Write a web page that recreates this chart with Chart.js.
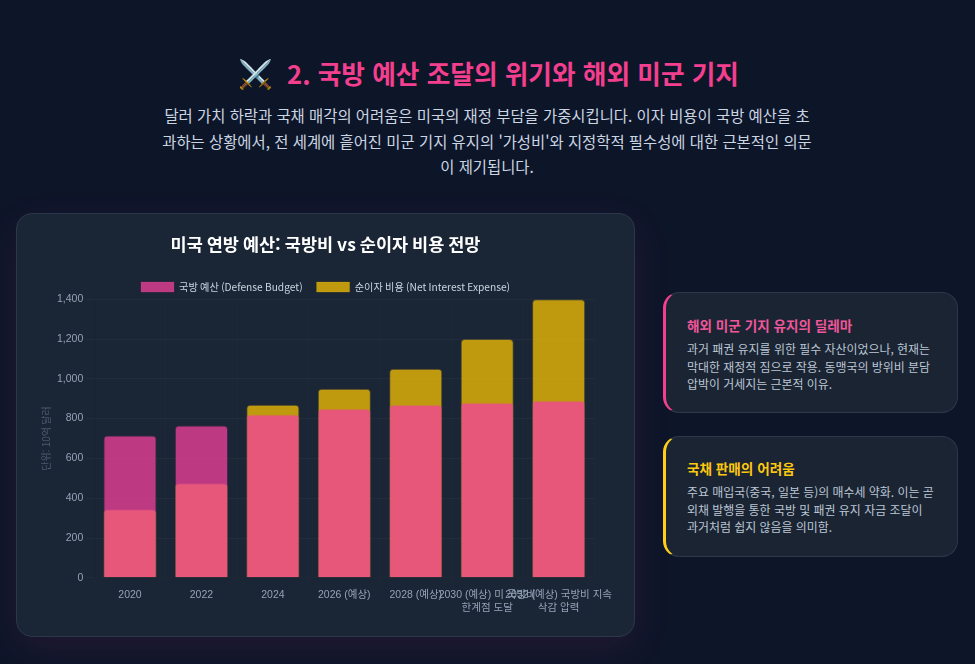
<!DOCTYPE html>
<html lang="ko">
<head>
<meta charset="utf-8">
<title>국방 예산 조달의 위기와 해외 미군 기지</title>
<script src="https://cdn.jsdelivr.net/npm/chart.js@4"></script>
<style>
  * { box-sizing: border-box; margin: 0; padding: 0; }
  html, body { width: 975px; height: 664px; overflow: hidden; }
  body { background: #0d1529; font-family: "Noto Sans CJK KR", sans-serif; position: relative; }
  h2 { position: absolute; left: 1px; top: 52px; width: 975px; text-align: center; font-size: 25.7px; line-height: 40px; font-weight: 700; color: #f43f8e; }
  h2 span { margin-right: 14px; font-size: 28px; }
  .intro { position: absolute; left: 160px; top: 103px; width: 654px; text-align: center; font-size: 15.4px; line-height: 25.5px; color: #cbd5e1; }
  .chart-card { position: absolute; left: 16px; top: 213px; width: 619px; height: 424px; background: #1a2535; border: 1px solid #2c3849; border-radius: 16px; box-shadow: 0 12px 40px rgba(244, 63, 142, 0.09); }
  .chart-box { position: absolute; left: 19px; top: 8px; width: 579px; height: 395px; }
  .note { position: absolute; left: 663px; width: 295px; height: 121px; padding: 22px 22px 0 21px; background: #1a2433; border: 1px solid #2c3849; border-left: 3px solid; border-radius: 16px; }
  .note h3 { font-size: 13.6px; line-height: 20px; font-weight: 700; margin-bottom: 5px; }
  .note p { font-size: 11.95px; line-height: 17.6px; color: #bcc6d3; }
  .pink { top: 292px; border-left-color: #f43f8e; }
  .pink h3 { color: #f0569a; }
  .gold { top: 436px; padding-top: 21px; border-left-color: #fdd017; }
  .gold h3 { color: #fdc80f; }
</style>
</head>
<body>
<h2><span>⚔️</span>2. 국방 예산 조달의 위기와 해외 미군 기지</h2>
<p class="intro">달러 가치 하락과 국채 매각의 어려움은 미국의 재정 부담을 가중시킵니다. 이자 비용이 국방 예산을 초과하는 상황에서, 전 세계에 흩어진 미군 기지 유지의 '가성비'와 지정학적 필수성에 대한 근본적인 의문이 제기됩니다.</p>

<div class="chart-card"><div class="chart-box"><canvas id="budget_chart"></canvas></div></div>

<div class="note pink">
  <h3>해외 미군 기지 유지의 딜레마</h3>
  <p>과거 패권 유지를 위한 필수 자산이었으나, 현재는 막대한 재정적 짐으로 작용. 동맹국의 방위비 분담 압박이 거세지는 근본적 이유.</p>
</div>
<div class="note gold">
  <h3>국채 판매의 어려움</h3>
  <p>주요 매입국(중국, 일본 등)의 매수세 약화. 이는 곧 외채 발행을 통한 국방 및 패권 유지 자금 조달이 과거처럼 쉽지 않음을 의미함.</p>
</div>

<script>
var yearLabels = [
  "2020",
  "2022",
  "2024",
  "2026 (예상)",
  "2028 (예상)",
  ["2030 (예상) 미 국방비", "한계점 도달"],
  ["2032 (예상) 국방비 지속", "삭감 압력"],
];
var defenseBudget = [715, 765, 820, 850, 870, 880, 890];
var netInterest = [345, 475, 870, 950, 1050, 1200, 1400];

var tickFont = '"Liberation Sans", "Noto Sans CJK KR", sans-serif';
var korFont = '"Noto Sans CJK KR", sans-serif';

// pull the plot a little closer to the legend
var tightLegend = {
  id: "tightLegend",
  beforeInit: function (chart) {
    var fit = chart.legend.fit;
    chart.legend.fit = function () {
      fit.call(chart.legend);
      this.height -= 3;
    };
  },
};

// Chart Configurations
var ctx = document.getElementById("budget_chart").getContext("2d");
var myChart = new Chart(ctx, {
  type: "bar",
  plugins: [tightLegend],
  data: {
    labels: yearLabels,
    datasets: [
      {
        label: "국방 예산 (Defense Budget)",
        data: defenseBudget,
        backgroundColor: "rgba(244, 66, 158, 0.75)",
        borderColor: "rgba(244, 66, 158, 0.2)",
        borderWidth: 1,
        borderRadius: 4,
        barPercentage: 0.93,
      },
      {
        label: "순이자 비용 (Net Interest Expense)",
        data: netInterest,
        backgroundColor: "rgba(255, 200, 0, 0.72)",
        borderColor: "rgba(255, 200, 0, 0.2)",
        borderWidth: 1,
        borderRadius: 4,
        barPercentage: 0.93,
      },
    ],
  },
  options: {
    animation: false,
    responsive: true,
    maintainAspectRatio: false,
    plugins: {
      title: {
        display: true,
        text: "미국 연방 예산: 국방비 vs 순이자 비용 전망",
        color: "#ffffff",
        font: { family: korFont, size: 17.5, weight: "bold" },
        padding: { top: 12, bottom: 13 },
      },
      legend: {
        labels: {
          color: "#cbd5e1",
          boxWidth: 33,
          boxHeight: 10,
          padding: 14,
          font: { family: korFont, size: 10.2 },
        },
      },
    },
    scales: {
      x: {
        stacked: true,
        grid: { color: "rgba(255, 255, 255, 0.012)" },
        ticks: {
          color: "#94a3b8",
          maxRotation: 0,
          autoSkip: false,
          font: { family: tickFont, size: 10.5 },
        },
      },
      y: {
        stacked: false,
        beginAtZero: true,
        max: 1400,
        grid: { color: "rgba(255, 255, 255, 0.04)" },
        ticks: {
          color: "#94a3b8",
          stepSize: 200,
          padding: 3,
          font: { family: tickFont, size: 10.5 },
        },
        title: {
          display: true,
          text: "단위: 10억 달러",
          color: "#4b5a6e",
          padding: { top: 4, bottom: 2 },
          font: { family: korFont, size: 10 },
        },
      },
    },
  },
});
</script>
</body>
</html>
